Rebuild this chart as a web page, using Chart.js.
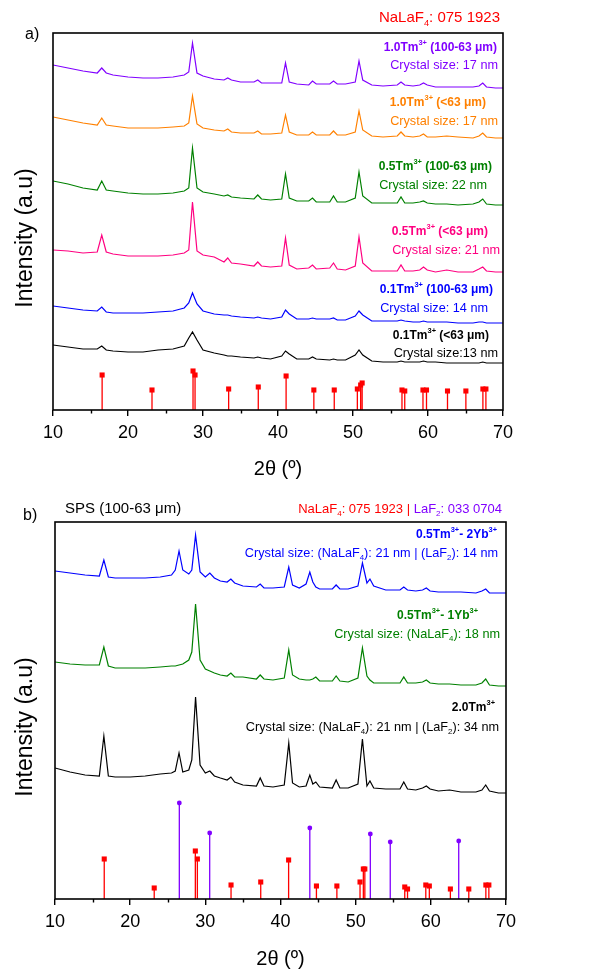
<!DOCTYPE html>
<html>
<head>
<meta charset="utf-8">
<title>XRD patterns</title>
<script src="https://cdn.jsdelivr.net/npm/chart.js@4.4.3/dist/chart.umd.min.js"></script>
<style>
  html, body { margin: 0; padding: 0; background: #fff; }
  canvas { display: block; }
</style>
</head>
<body>
<canvas id="xrd-a" width="598" height="486"></canvas>
<canvas id="xrd-b" width="598" height="485"></canvas>
<script>
const FONT = "'Liberation Sans', Arial, Helvetica, sans-serif";

// ---- panel a: 2theta sample positions and intensities (a.u.) ----
const twoThetaA = [10, 12, 14, 15.9, 16.5, 17.1, 18, 20, 22, 24,
  26, 27.5, 28.1, 28.6, 29.2, 30, 31.5, 32.8, 33.3, 33.8,
  35, 36.8, 37.3, 37.8, 39, 40.5, 41.0, 41.5, 42.5, 44.1,
  44.6, 45.1, 46.9, 47.4, 47.9, 49, 50.3, 50.8, 51.3, 52.5,
  54, 55.9, 56.4, 56.9, 58, 58.9, 59.4, 59.9, 61, 62.5,
  64, 66, 66.8, 67.3, 67.8, 69, 70];

const tm10Coarse = [345, 342, 339, 337, 342, 337, 335, 333, 332, 332,
  333, 335, 338, 367, 337, 334, 331, 330, 332, 330,
  328, 328, 330, 327, 327, 327, 347, 328, 326, 325,
  329, 326, 326, 329, 326, 326, 328, 349, 330, 325,
  324, 325, 328, 325, 324, 325, 327, 325, 323, 323,
  323, 323, 324, 327, 323, 322, 322];
const tm10Fine = [293, 290, 287, 285, 292, 285, 284, 282, 282, 282,
  283, 284, 287, 314, 286, 282, 280, 279, 281, 278,
  277, 277, 279, 276, 276, 277, 295, 278, 275, 275,
  278, 275, 275, 279, 275, 275, 278, 299, 280, 274,
  273, 274, 278, 274, 273, 274, 276, 273, 273, 274,
  273, 272, 274, 277, 273, 272, 272];
const tm05Coarse = [229, 226, 222, 220, 229, 220, 219, 217, 216, 216,
  217, 219, 222, 262, 222, 218, 216, 214, 215, 213,
  212, 211, 215, 211, 210, 211, 236, 212, 209, 209,
  212, 208, 208, 214, 208, 208, 212, 238, 214, 207,
  207, 207, 213, 207, 207, 208, 209, 207, 206, 206,
  205, 206, 208, 211, 206, 205, 205];
const tm05Fine = [160, 159, 157, 158, 175, 158, 156, 154, 154, 154,
  155, 157, 160, 208, 159, 155, 153, 148, 152, 147,
  146, 144, 148, 144, 143, 144, 172, 145, 141, 142,
  145, 141, 142, 147, 141, 140, 144, 173, 147, 139,
  139, 139, 145, 139, 139, 140, 143, 140, 138, 140,
  138, 138, 141, 143, 139, 138, 138];
const tm01Coarse = [104, 102, 100, 99, 103, 98, 97, 97, 97, 98,
  99, 102, 107, 117, 106, 99, 96, 95, 95, 94,
  93, 92, 93, 92, 91, 93, 100, 96, 91, 91,
  92, 91, 91, 92, 90, 90, 94, 99, 95, 89,
  89, 89, 90, 89, 88, 88, 89, 88, 88, 88,
  87, 87, 88, 88, 87, 87, 87];
const tm01Fine = [65, 63, 61, 61, 64, 60, 59, 58, 58, 60,
  61, 64, 72, 78, 70, 60, 57, 55, 54, 54,
  53, 52, 53, 52, 51, 54, 59, 56, 51, 51,
  53, 51, 50, 51, 50, 50, 55, 60, 55, 49,
  48, 48, 49, 48, 48, 48, 49, 48, 48, 47,
  47, 47, 47, 48, 47, 47, 47];

// ---- panel b: SPS samples ----
const twoThetaB = [10, 12, 14, 15.9, 16.5, 17.1, 18, 20, 22, 24,
  25.5, 26.0, 26.5, 27.0, 27.8, 28.2, 28.7, 29.3, 30.0, 30.6,
  31.2, 32.0, 32.9, 33.4, 33.9, 35, 36.8, 37.3, 37.8, 39,
  40.5, 41.1, 41.6, 42.5, 43.4, 43.9, 44.3, 44.7, 45.2, 46.9,
  47.4, 47.9, 49.0, 50.3, 50.9, 51.5, 51.9, 52.4, 54, 55.9,
  56.4, 56.9, 58, 58.9, 59.4, 59.9, 61, 62.5, 64, 66,
  66.8, 67.3, 67.8, 69, 70];

const sps2Yb = [328, 326, 324, 323, 339, 322, 321, 321, 321, 322,
  324, 329, 348, 329, 325, 329, 364, 327, 322, 326,
  321, 318, 317, 320, 316, 313, 312, 315, 311, 311,
  312, 332, 314, 311, 315, 327, 317, 312, 310, 310,
  314, 310, 310, 313, 336, 316, 320, 313, 309, 309,
  312, 309, 308, 309, 311, 308, 307, 307, 307, 306,
  308, 310, 306, 306, 306];
const sps1Yb = [237, 235, 234, 234, 252, 233, 231, 231, 231, 232,
  233, 233, 234, 235, 239, 247, 295, 239, 230, 228,
  226, 224, 223, 226, 222, 222, 220, 224, 220, 219,
  221, 249, 224, 220, 219, 219, 220, 222, 218, 218,
  223, 218, 217, 221, 251, 223, 219, 216, 216, 216,
  222, 216, 216, 217, 219, 216, 215, 215, 214, 214,
  216, 220, 214, 213, 213];
const sps20Tm = [131, 127, 124, 123, 163, 123, 122, 122, 123, 125,
  126, 128, 146, 127, 129, 139, 202, 134, 126, 128,
  123, 121, 119, 122, 117, 114, 113, 121, 113, 112,
  114, 156, 116, 112, 113, 124, 115, 117, 112, 111,
  119, 111, 111, 115, 160, 113, 118, 111, 110, 110,
  117, 110, 109, 111, 113, 110, 108, 109, 107, 107,
  109, 114, 108, 106, 106];

// ---- reference patterns ----
const naLaF4Peaks = [16.55, 23.2, 28.67, 28.94, 33.42, 37.37, 41.08, 44.78, 47.5, 50.58,
  51.02, 51.22, 56.53, 56.9, 59.33, 59.8, 62.6, 65.05, 67.32, 67.72];
const naLaF4HeightsA = [35, 20, 39, 35, 21, 23, 34, 20, 20, 21,
  25, 27, 20, 19, 20, 20, 19, 19, 21, 21];
const naLaF4HeightsB = [40, 11, 48, 40, 14, 17, 39, 13, 13, 17,
  30, 30, 12, 10, 14, 13, 10, 10, 14, 14];
const laF2Peaks = [26.54, 30.58, 43.9, 51.95, 54.6, 63.71];
const laF2HeightsB = [96, 66, 71, 65, 57, 58];

function curve(label, xs, ys, color) {
  return {
    type: "line",
    label,
    data: xs.map((x, i) => ({ x, y: ys[i] })),
    borderColor: color,
    borderWidth: 1.2,
    pointRadius: 0,
    tension: 0,
  };
}

function sticks(label, xs, hs, color) {
  const data = [];
  xs.forEach((x, i) => {
    data.push({ x, y: 0 }, { x, y: hs[i] }, { x, y: null });
  });
  return {
    type: "line",
    label,
    data,
    borderColor: color,
    borderWidth: 1.3,
    pointRadius: 0,
    spanGaps: false,
  };
}

function markers(label, xs, hs, color, style, radius) {
  return {
    type: "scatter",
    label,
    data: xs.map((x, i) => ({ x, y: hs[i] })),
    pointStyle: style,
    pointRadius: radius,
    pointBackgroundColor: color,
    pointBorderColor: color,
    pointBorderWidth: 0,
    showLine: false,
  };
}

function parseRich(str) {
  return str
    .split(/(\^\{[^}]*\}|_\{[^}]*\})/)
    .filter(Boolean)
    .map((p) => {
      if (p.startsWith("^{")) return { t: p.slice(2, -1), k: "sup" };
      if (p.startsWith("_{")) return { t: p.slice(2, -1), k: "sub" };
      return { t: p, k: "" };
    });
}

// draws text with ^{sup} and _{sub}, returns its width
function richText(ctx, str, x, y, { size, bold = false, color = "#000", align = "right" }) {
  const parts = parseRich(str);
  const fontFor = (k) => `${bold ? "bold " : ""}${k ? size * 0.62 : size}px ${FONT}`;
  let width = 0;
  parts.forEach((p) => {
    ctx.font = fontFor(p.k);
    p.w = ctx.measureText(p.t).width;
    width += p.w;
  });
  let cx = align === "right" ? x - width : x;
  ctx.save();
  ctx.fillStyle = color;
  ctx.textBaseline = "middle";
  ctx.textAlign = "left";
  parts.forEach((p) => {
    ctx.font = fontFor(p.k);
    const dy = p.k === "sup" ? -size * 0.4 : p.k === "sub" ? size * 0.38 : 0;
    ctx.fillText(p.t, cx, y + dy);
    cx += p.w;
  });
  ctx.restore();
  return width;
}

function makeDecorations(cfg) {
  return {
    id: "decorations",
    afterDraw(chart) {
      const { ctx, chartArea: a } = chart;
      const xScale = chart.scales.x;

      ctx.save();
      ctx.strokeStyle = "#000";
      ctx.lineWidth = 1.6;
      ctx.strokeRect(a.left, a.top, a.right - a.left, a.bottom - a.top);
      // minor ticks between the labelled ones
      ctx.lineWidth = 1.4;
      ctx.beginPath();
      for (let v = 15; v < 70; v += 10) {
        const px = Math.round(xScale.getPixelForValue(v)) + 0.5;
        ctx.moveTo(px, a.bottom);
        ctx.lineTo(px, a.bottom + 3.5);
      }
      ctx.stroke();
      ctx.restore();

      ctx.save();
      ctx.translate(cfg.yTitle.x, cfg.yTitle.y);
      ctx.rotate(-Math.PI / 2);
      ctx.font = `23px ${FONT}`;
      ctx.fillStyle = "#000";
      ctx.textAlign = "center";
      ctx.textBaseline = "middle";
      ctx.fillText("Intensity (a.u)", 0, 0);
      ctx.restore();

      cfg.labels.forEach((l) => {
        if (l.after) {
          // right-aligned run that continues a previously drawn run
          const w = richText(ctx, l.after.text, l.x, l.y, l.after);
          richText(ctx, l.text, l.x - w, l.y, l);
        } else {
          richText(ctx, l.text, l.x, l.y, l);
        }
      });
    },
  };
}

function makeChart(canvas, datasets, geom, cfg) {
  return new Chart(canvas, {
    type: "scatter",
    data: { datasets },
    options: {
      responsive: false,
      animation: false,
      devicePixelRatio: 1,
      layout: { padding: { top: geom.top, right: geom.right, left: 0, bottom: 0 } },
      plugins: { legend: { display: false }, tooltip: { enabled: false } },
      scales: {
        x: {
          type: "linear",
          min: 10,
          max: 70,
          afterFit(scale) {
            scale.height = geom.xAxisHeight;
          },
          ticks: {
            stepSize: 10,
            autoSkip: false,
            maxRotation: 0,
            color: "#000",
            padding: 6,
            font: { family: FONT, size: 18 },
          },
          grid: {
            drawOnChartArea: false,
            drawTicks: true,
            tickLength: 6,
            color: "#000",
            lineWidth: 1.4,
          },
          border: { display: false },
          title: {
            display: true,
            text: "2θ (º)",
            color: "#000",
            font: { family: FONT, size: 20 },
            padding: { top: 0, bottom: geom.titlePad },
          },
        },
        y: {
          type: "linear",
          min: 0,
          max: 377,
          afterFit(scale) {
            scale.width = geom.left;
          },
          ticks: { display: false },
          grid: { display: false },
          border: { display: false },
        },
      },
    },
    plugins: [makeDecorations(cfg)],
  });
}

const PURPLE = "#8000ff";
const ORANGE = "#ff8000";
const GREEN = "#008000";
const PINK = "#ff0080";
const BLUE = "#0000ff";
const RED = "#ff0000";

makeChart(
  document.getElementById("xrd-a"),
  [
    curve("1.0Tm (100-63)", twoThetaA, tm10Coarse, PURPLE),
    curve("1.0Tm (<63)", twoThetaA, tm10Fine, ORANGE),
    curve("0.5Tm (100-63)", twoThetaA, tm05Coarse, GREEN),
    curve("0.5Tm (<63)", twoThetaA, tm05Fine, PINK),
    curve("0.1Tm (100-63)", twoThetaA, tm01Coarse, BLUE),
    curve("0.1Tm (<63)", twoThetaA, tm01Fine, "#000"),
    markers("NaLaF4 marks", naLaF4Peaks, naLaF4HeightsA, RED, "rect", 3.6),
    sticks("NaLaF4", naLaF4Peaks, naLaF4HeightsA, RED),
  ],
  { top: 33, right: 95, left: 53, xAxisHeight: 76, titlePad: 5 },
  {
    yTitle: { x: 26, y: 238 },
    labels: [
      { text: "a)", x: 25, y: 35, size: 16, align: "left" },
      { text: "NaLaF_{4}: 075 1923", x: 500, y: 18, size: 15, color: RED },
      { text: "1.0Tm^{3+} (100-63 μm)", x: 497, y: 48, size: 12, bold: true, color: PURPLE },
      { text: "Crystal size: 17 nm", x: 498, y: 65, size: 12.7, color: PURPLE },
      { text: "1.0Tm^{3+} (<63 μm)", x: 486, y: 103, size: 12, bold: true, color: ORANGE },
      { text: "Crystal size: 17 nm", x: 498, y: 121, size: 12.7, color: ORANGE },
      { text: "0.5Tm^{3+} (100-63 μm)", x: 492, y: 167, size: 12, bold: true, color: GREEN },
      { text: "Crystal size: 22 nm", x: 487, y: 185, size: 12.7, color: GREEN },
      { text: "0.5Tm^{3+} (<63 μm)", x: 488, y: 232, size: 12, bold: true, color: PINK },
      { text: "Crystal size: 21 nm", x: 500, y: 250, size: 12.7, color: PINK },
      { text: "0.1Tm^{3+} (100-63 μm)", x: 493, y: 290, size: 12, bold: true, color: BLUE },
      { text: "Crystal size: 14 nm", x: 488, y: 308, size: 12.7, color: BLUE },
      { text: "0.1Tm^{3+} (<63 μm)", x: 489, y: 336, size: 12, bold: true, color: "#000" },
      { text: "Crystal size:13 nm", x: 498, y: 353, size: 12.7, color: "#000" },
    ],
  }
);

makeChart(
  document.getElementById("xrd-b"),
  [
    curve("0.5Tm-2Yb", twoThetaB, sps2Yb, BLUE),
    curve("0.5Tm-1Yb", twoThetaB, sps1Yb, GREEN),
    curve("2.0Tm", twoThetaB, sps20Tm, "#000"),
    markers("LaF2 marks", laF2Peaks, laF2HeightsB, PURPLE, "circle", 2.4),
    sticks("LaF2", laF2Peaks, laF2HeightsB, PURPLE),
    markers("NaLaF4 marks", naLaF4Peaks, naLaF4HeightsB, RED, "rect", 3.6),
    sticks("NaLaF4", naLaF4Peaks, naLaF4HeightsB, RED),
  ],
  { top: 36, right: 92, left: 55, xAxisHeight: 72, titlePad: 0 },
  {
    yTitle: { x: 26, y: 241 },
    labels: [
      { text: "b)", x: 23, y: 30, size: 16, align: "left" },
      { text: "SPS (100-63 μm)", x: 65, y: 23, size: 15, align: "left" },
      {
        text: "NaLaF_{4}: 075 1923 | ", x: 502, y: 23, size: 13, color: RED,
        after: { text: "LaF_{2}: 033 0704", size: 13, color: PURPLE },
      },
      { text: "0.5Tm^{3+}- 2Yb^{3+}", x: 497, y: 49, size: 12, bold: true, color: BLUE },
      { text: "Crystal size: (NaLaF_{4}): 21 nm | (LaF_{2}): 14 nm", x: 498, y: 67, size: 12.7, color: BLUE },
      { text: "0.5Tm^{3+}- 1Yb^{3+}", x: 478, y: 130, size: 12, bold: true, color: GREEN },
      { text: "Crystal size: (NaLaF_{4}): 18 nm", x: 500, y: 148, size: 12.7, color: GREEN },
      { text: "2.0Tm^{3+}", x: 495, y: 222, size: 12, bold: true, color: "#000" },
      { text: "Crystal size: (NaLaF_{4}): 21 nm | (LaF_{2}): 34 nm", x: 499, y: 241, size: 12.7, color: "#000" },
    ],
  }
);
</script>
</body>
</html>
